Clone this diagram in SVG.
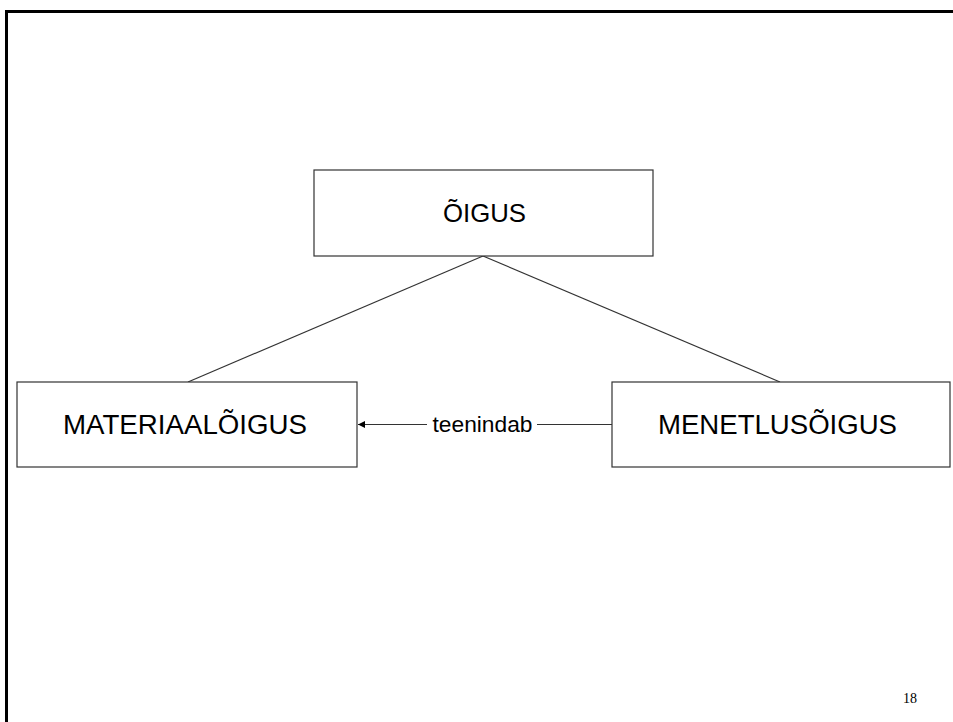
<svg xmlns="http://www.w3.org/2000/svg" width="953" height="722" viewBox="0 0 953 722">
<defs>
<style>
.box{fill:#fff;stroke:#333;stroke-width:1.2}
.lbl{font-family:"Liberation Sans",Arial,sans-serif;fill:#000;text-anchor:middle}
.con{stroke:#333;stroke-width:1.2;fill:none}
</style>
<marker id="arr" viewBox="0 0 10 10" refX="10" refY="5" markerWidth="9" markerHeight="7" markerUnits="userSpaceOnUse" orient="auto">
<path d="M0,0 L10,5 L0,10 Z" fill="#000"/>
</marker>
</defs>
<rect width="953" height="722" fill="#fff"/>
<g id="frame">
<path d="M6.5,722 V11.5 H953" fill="none" stroke="#000" stroke-width="3"/>
</g>
<g id="connectors">
<line class="con" x1="483" y1="256" x2="188" y2="382"/>
<line class="con" x1="483" y1="256" x2="780" y2="382"/>
<line class="con" x1="427" y1="424.5" x2="358" y2="424.5" marker-end="url(#arr)"/>
<line class="con" x1="537" y1="424.5" x2="612" y2="424.5"/>
<text class="lbl" x="482.5" y="431.5" font-size="22" textLength="100" lengthAdjust="spacingAndGlyphs">teenindab</text>
</g>
<g id="oigus">
<rect class="box" x="314" y="170" width="339" height="86"/>
<text class="lbl" x="484.5" y="222" font-size="26" textLength="83" lengthAdjust="spacingAndGlyphs">ÕIGUS</text>
</g>
<g id="materiaaloigus">
<rect class="box" x="17" y="382" width="340" height="85"/>
<text class="lbl" x="185" y="433.5" font-size="27" textLength="244" lengthAdjust="spacingAndGlyphs">MATERIAALÕIGUS</text>
</g>
<g id="menetlusoigus">
<rect class="box" x="612" y="382" width="338" height="85"/>
<text class="lbl" x="777.5" y="433.5" font-size="27" textLength="239" lengthAdjust="spacingAndGlyphs">MENETLUSÕIGUS</text>
</g>
<g id="pagenum">
<text x="910" y="703" font-family="'Liberation Serif','Times New Roman',serif" font-size="14" text-anchor="middle" fill="#000">18</text>
</g>
</svg>
